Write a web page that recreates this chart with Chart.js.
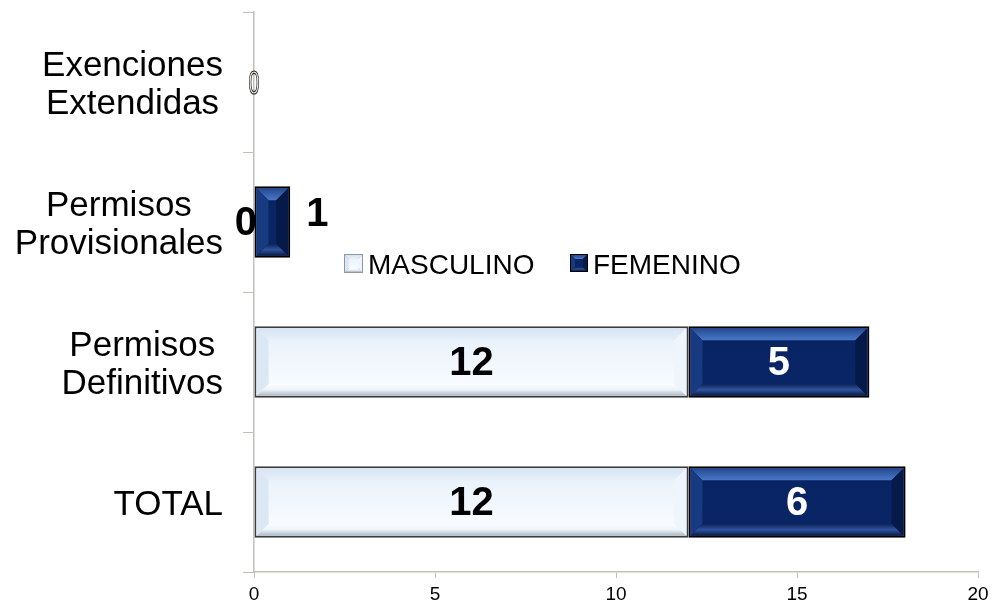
<!DOCTYPE html>
<html lang="es">
<head>
<meta charset="utf-8">
<script src="https://cdn.jsdelivr.net/npm/chart.js"></script>
<style>
    html, body { margin: 0; padding: 0; background: #fff; }
    #wrap { width: 994px; height: 607px; }
</style>
</head>
<body>
<div id="wrap"><canvas id="permisosChart" width="994" height="607"></canvas></div>
<script>
// datos
const categorias = [['Exenciones', 'Extendidas'], ['Permisos', 'Provisionales'], ['Permisos', 'Definitivos'], ['TOTAL']];
const masculino = [0, 0, 12, 12];
const femenino = [0, 1, 5, 6];
const seriesNombres = ['MASCULINO', 'FEMENINO'];
const ticksX = [0, 5, 10, 15, 20];

const FONT = '"Liberation Sans", Arial, sans-serif';
const AXIS = '#c4c0b8';

// bisel de cada barra (dibujado encima de la barra de Chart.js)
function bevel(ctx, l, t, r, b, style, size) {
    const w = r - l, h = b - t;
    if (w <= 2 || h <= 2) return;
    const s = Math.min(size, w / 2, h / 2);
    const poly = (pts, fill) => {
        ctx.beginPath();
        ctx.moveTo(pts[0][0], pts[0][1]);
        pts.slice(1).forEach(p => ctx.lineTo(p[0], p[1]));
        ctx.closePath();
        ctx.fillStyle = fill;
        ctx.fill();
    };
    // centro
    const g = ctx.createLinearGradient(0, t + s, 0, b - s);
    g.addColorStop(0, style.c1);
    g.addColorStop(1, style.c2);
    ctx.fillStyle = g;
    ctx.fillRect(l + s, t + s, w - 2 * s, h - 2 * s);
    // arriba
    const gt = ctx.createLinearGradient(0, t, 0, t + s);
    gt.addColorStop(0, style.top[0]);
    gt.addColorStop(1, style.top[1]);
    poly([[l, t], [r, t], [r - s, t + s], [l + s, t + s]], gt);
    // abajo
    const gb = ctx.createLinearGradient(0, b - s, 0, b);
    gb.addColorStop(0, style.bottom[0]);
    gb.addColorStop(0.5, style.bottom[1]);
    gb.addColorStop(1, style.bottom[2]);
    poly([[l, b], [r, b], [r - s, b - s], [l + s, b - s]], gb);
    // izquierda / derecha
    poly([[l, t], [l + s, t + s], [l + s, b - s], [l, b]], style.left);
    poly([[r, t], [r - s, t + s], [r - s, b - s], [r, b]], style.right);
}

const estilos = [
    { c1: '#e9f2fb', c2: '#f8fbff', top: ['#d6e4f2', '#e6f0fa'], bottom: ['#fbfdff', '#eef4f9', '#a9b7c4'], left: '#dbe7f4', right: '#eef5fc' },
    { c1: '#082463', c2: '#0a2565', top: ['#24488f', '#4a79c8'], bottom: ['#0b2150', '#2f53a0', '#0a1a42'], left: '#173a80', right: '#061a4a' }
];

const biselPlugin = {
    id: 'bisel',
    afterDatasetsDraw(chart) {
        const ctx = chart.ctx;
        // biseles
        chart.data.datasets.forEach((ds, di) => {
            chart.getDatasetMeta(di).data.forEach(bar => {
                const l = Math.min(bar.x, bar.base) + 2, r = Math.max(bar.x, bar.base) - 2;
                const t = bar.y - bar.height / 2 + 2, b = bar.y + bar.height / 2 - 2;
                ctx.save();
                bevel(ctx, l, t, r, b, estilos[di], 12);
                ctx.restore();
            });
        });
        // etiquetas de datos
        chart.data.datasets.forEach((ds, di) => {
            chart.getDatasetMeta(di).data.forEach((bar, i) => {
                const v = ds.data[i];
                const total = chart.data.datasets.reduce((s, d) => s + d.data[i], 0);
                const l = Math.min(bar.x, bar.base), r = Math.max(bar.x, bar.base);
                ctx.save();
                ctx.textBaseline = 'middle';
                if (total === 0) {
                    if (di === 0) {
                        ctx.translate(bar.base, bar.y + 3);
                        ctx.scale(0.6, 1);
                        ctx.font = '33px ' + FONT;
                        ctx.textAlign = 'center';
                        ctx.strokeStyle = '#333';
                        ctx.lineWidth = 1.2;
                        ctx.strokeText(String(v), 0, 0);
                    }
                } else if (v === 0) {
                    ctx.font = 'bold 40px ' + FONT;
                    ctx.fillStyle = '#000';
                    ctx.textAlign = 'right';
                    ctx.fillText(String(v), bar.base + 3, bar.y + 2);
                } else if (r - l < 50) {
                    ctx.font = 'bold 40px ' + FONT;
                    ctx.fillStyle = '#000';
                    ctx.textAlign = 'left';
                    ctx.fillText(String(v), r + 16, bar.y - 7);
                } else {
                    ctx.font = 'bold 40px ' + FONT;
                    ctx.fillStyle = di === 0 ? '#000' : '#fff';
                    ctx.textAlign = 'center';
                    ctx.fillText(String(v), (l + r) / 2, bar.y + 2);
                }
                ctx.restore();
            });
        });
    },
    afterDraw(chart) {
        const ctx = chart.ctx;
        const ys = chart.scales.y;
        // etiquetas de categoria: bloque alineado a la derecha, lineas centradas
        ctx.save();
        ctx.font = '35px ' + FONT;
        ctx.fillStyle = '#000';
        ctx.textAlign = 'center';
        ctx.textBaseline = 'alphabetic';
        const lh = 38;
        categorias.forEach((lines, i) => {
            const cy = ys.getPixelForValue(i);
            const maxW = Math.max(...lines.map(s => ctx.measureText(s).width));
            const cx = 223 - maxW / 2;
            lines.forEach((s, k) => {
                const by = cy + (k - (lines.length - 1) / 2) * lh + 12.5;
                ctx.fillText(s, cx, by);
            });
        });
        ctx.restore();

        // leyenda
        ctx.save();
        const items = [{ x: 344, size: 19 }, { x: 570, size: 18 }];
        chart.data.datasets.forEach((ds, di) => {
            const it = items[di];
            const t = 254, l = it.x;
            ctx.fillStyle = di === 0 ? '#8e98a2' : '#000';
            ctx.fillRect(l, t, it.size, it.size);
            bevel(ctx, l + 1, t + 1, l + it.size - 1, t + it.size - 1, estilos[di], 4);
            ctx.font = '28px ' + FONT;
            ctx.fillStyle = '#000';
            ctx.textAlign = 'left';
            ctx.textBaseline = 'alphabetic';
            ctx.fillText(ds.label, l + it.size + 5, 274);
        });
        ctx.restore();
    }
};

const ctxPermisos = document.getElementById('permisosChart').getContext('2d');
new Chart(ctxPermisos, {
    type: 'bar',
    data: {
        labels: categorias,
        datasets: [{
            label: seriesNombres[0],
            data: masculino,
            backgroundColor: '#eef5fc',
            borderColor: '#3c3c3c',
            borderWidth: 2,
            borderSkipped: false,
            barPercentage: 0.51,
            categoryPercentage: 1
        }, {
            label: seriesNombres[1],
            data: femenino,
            backgroundColor: '#0a2463',
            borderColor: '#000',
            borderWidth: 2,
            borderSkipped: false,
            barPercentage: 0.51,
            categoryPercentage: 1
        }]
    },
    options: {
        indexAxis: 'y',
        responsive: false,
        devicePixelRatio: 1,
        animation: false,
        layout: { padding: { top: 12, right: 16, left: 0, bottom: 0 } },
        plugins: {
            legend: { display: false },
            tooltip: { enabled: false }
        },
        scales: {
            x: {
                stacked: true,
                min: ticksX[0],
                max: ticksX[ticksX.length - 1],
                afterBuildTicks: s => { s.ticks = ticksX.map(v => ({ value: v })); },
                afterFit: s => { s.height = 35; },
                grid: { drawOnChartArea: false, tickLength: 6, color: AXIS },
                border: { color: AXIS, width: 1.5 },
                ticks: { font: { family: FONT, size: 19 }, color: '#000', padding: 5, maxRotation: 0 }
            },
            y: {
                stacked: true,
                afterFit: s => { s.width = 254; },
                grid: { offset: true, drawOnChartArea: false, tickLength: 11, color: AXIS },
                border: { color: AXIS, width: 1.5 },
                ticks: { display: false }
            }
        }
    },
    plugins: [biselPlugin]
});
</script>
</body>
</html>
